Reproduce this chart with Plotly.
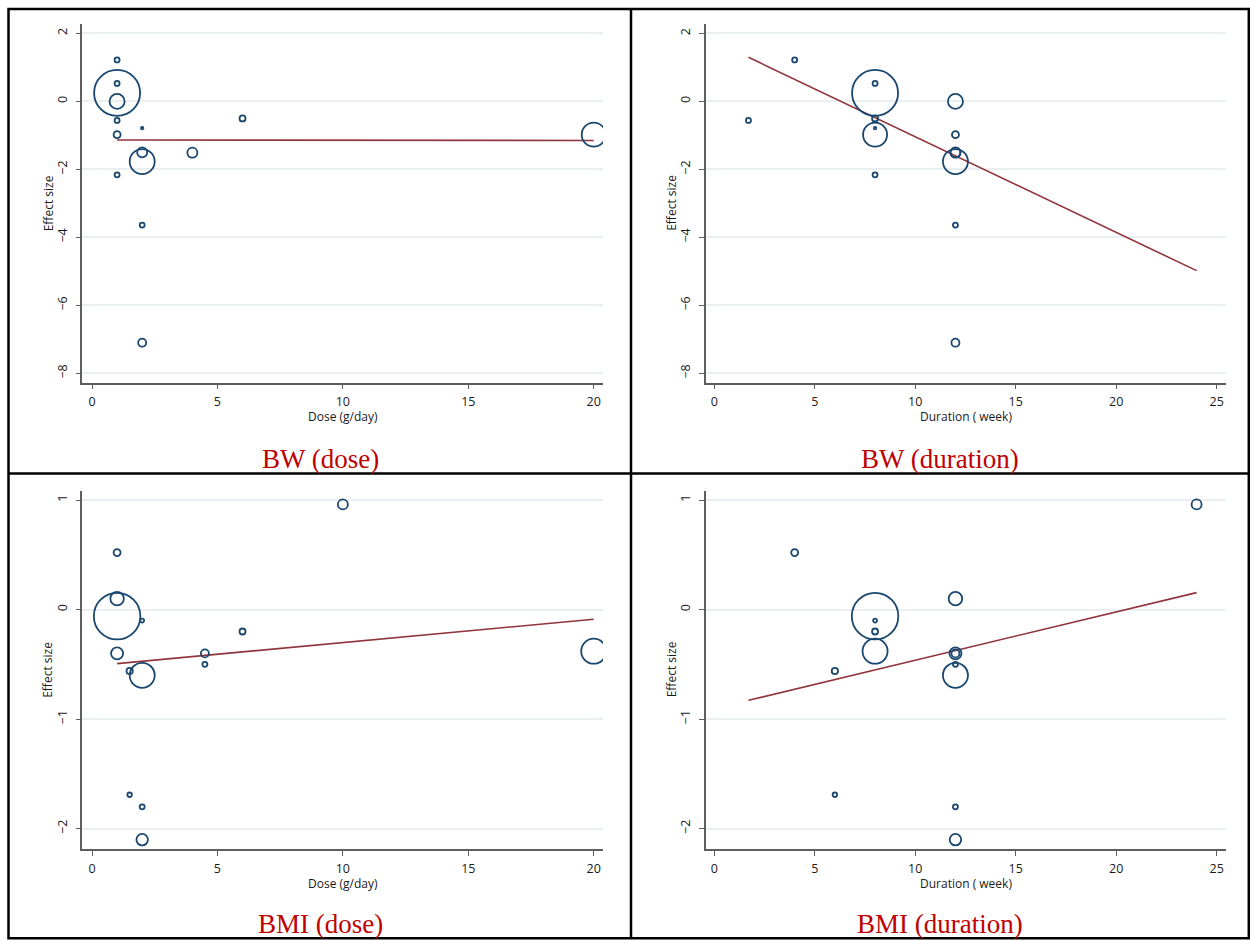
import numpy as np
import plotly.graph_objects as go

# ---------------- data ----------------
# Body weight (BW) studies
bw_dose = [1, 1, 1, 1, 1, 1, 1, 2, 2, 2, 2, 2, 4, 6, 20]
bw_duration = [4, 8, 8, 12, 1.7, 12, 8, 8, 12, 12, 12, 12, 12, 8, 8]
bw_effect = [1.22, 0.53, 0.25, 0.0, -0.56, -0.98, -2.16, -0.79, -1.50, -1.77, -3.64, -7.10, -1.51, -0.50, -0.98]
bw_weight = [0.25, 0.25, 21.2, 2.25, 0.25, 0.49, 0.25, 0.06, 1.0, 6.25, 0.25, 0.64, 1.0, 0.36, 5.76]

# BMI studies
bmi_dose = [1, 1, 1, 1, 1.5, 2, 2, 4.5, 4.5, 6, 10, 20, 1.5, 2, 2]
bmi_duration = [4, 12, 8, 12, 6, 8, 12, 12, 12, 8, 24, 8, 6, 12, 12]
bmi_effect = [0.52, 0.10, -0.06, -0.40, -0.56, -0.10, -0.60, -0.40, -0.50, -0.20, 0.96, -0.38, -1.69, -1.80, -2.10]
bmi_weight = [0.49, 1.82, 21.6, 1.44, 0.40, 0.16, 6.25, 0.64, 0.25, 0.36, 1.0, 6.25, 0.2, 0.25, 1.32]

# meta-regression fitted lines (end points)
bw_dose_fit_x = [1, 20]
bw_dose_fit_y = [-1.135, -1.15]
bw_dur_fit_x = [1.7, 24]
bw_dur_fit_y = [1.296, -4.98]
bmi_dose_fit_x = [1, 20]
bmi_dose_fit_y = [-0.493, -0.088]
bmi_dur_fit_x = [1.7, 24]
bmi_dur_fit_y = [-0.828, 0.155]

# axis ticks / labels
dose_ticks = [0, 5, 10, 15, 20]
duration_ticks = [0, 5, 10, 15, 20, 25]
bw_ticks = [-8, -6, -4, -2, 0, 2]
bmi_ticks = [-2, -1, 0, 1]
x_titles = ["Dose (g/day)", "Duration ( week)", "Dose (g/day)", "Duration ( week)"]
panel_titles = ["BW (dose)", "BW (duration)", "BMI (dose)", "BMI (duration)"]
y_title = "Effect size"

# ---------------- styling ----------------
W, H = 1250, 940
NAVY = "#1a476f"
MAROON = "#90353b"
GRID = "#eaf0f2"
AXIS = "#5e5e5e"
FONT = "Open Sans"
TXT = "#1a1a1a"


def px_x(p):
    return p / W


def px_y(p):
    return 1 - p / H


panels = [
    dict(x=bw_dose, y=bw_effect, w=bw_weight, fx=bw_dose_fit_x, fy=bw_dose_fit_y,
         xt=dose_ticks, yt=bw_ticks, xr=[-0.387, 20.37], yr=[-8.277, 2.277],
         dx=(82.3, 603), dy=(24, 382.7)),
    dict(x=bw_duration, y=bw_effect, w=bw_weight, fx=bw_dur_fit_x, fy=bw_dur_fit_y,
         xt=duration_ticks, yt=bw_ticks, xr=[-0.428, 25.463], yr=[-8.277, 2.277],
         dx=(705.7, 1226), dy=(24, 382.7)),
    dict(x=bmi_dose, y=bmi_effect, w=bmi_weight, fx=bmi_dose_fit_x, fy=bmi_dose_fit_y,
         xt=dose_ticks, yt=bmi_ticks, xr=[-0.387, 20.37], yr=[-2.185, 1.085],
         dx=(82.3, 603), dy=(490.7, 849)),
    dict(x=bmi_duration, y=bmi_effect, w=bmi_weight, fx=bmi_dur_fit_x, fy=bmi_dur_fit_y,
         xt=duration_ticks, yt=bmi_ticks, xr=[-0.428, 25.463], yr=[-2.185, 1.085],
         dx=(705.7, 1226), dy=(490.7, 849)),
]

fig = go.Figure()
layout = {}
annotations = []

for i, p in enumerate(panels):
    n = "" if i == 0 else str(i + 1)
    xa, ya = "x" + n, "y" + n
    sizes = 10 * np.sqrt(np.array(p["w"]))
    fig.add_trace(go.Scatter(
        x=p["fx"], y=p["fy"], mode="lines", xaxis=xa, yaxis=ya,
        line=dict(color=MAROON, width=1.6), showlegend=False, hoverinfo="skip"))
    fig.add_trace(go.Scatter(
        x=p["x"], y=p["y"], mode="markers", xaxis=xa, yaxis=ya,
        marker=dict(symbol="circle-open", size=sizes, color=NAVY, opacity=1,
                    line=dict(width=1.8, color=NAVY)),
        showlegend=False))
    layout["xaxis" + n] = dict(
        domain=[px_x(p["dx"][0]), px_x(p["dx"][1])], anchor=ya, range=p["xr"],
        tickmode="array", tickvals=p["xt"], ticks="outside", ticklen=5,
        tickcolor=AXIS, tickwidth=1.2, showline=True, linecolor=AXIS, linewidth=1.5,
        showgrid=False, zeroline=False, ticklabelstandoff=2,
        tickfont=dict(family=FONT, size=12.5, color=TXT))
    layout["yaxis" + n] = dict(
        domain=[px_y(p["dy"][1]), px_y(p["dy"][0])], anchor=xa, range=p["yr"],
        tickmode="array", tickvals=p["yt"], ticks="outside", ticklen=5,
        tickcolor=AXIS, tickwidth=1.2, showline=True, linecolor=AXIS, linewidth=1.5,
        showgrid=True, gridcolor=GRID, gridwidth=1.5, zeroline=False, tickangle=-90,
        ticklabelstandoff=4,
        tickfont=dict(family=FONT, size=12.5, color=TXT))
    xmid = (p["dx"][0] + p["dx"][1]) / 2
    ymid = (p["dy"][0] + p["dy"][1]) / 2
    ytitle_x = 48 if i % 2 == 0 else 671.5
    annotations.append(dict(
        text=y_title, x=px_x(ytitle_x), y=px_y(ymid), xref="paper", yref="paper",
        textangle=-90, showarrow=False, xanchor="center", yanchor="middle",
        font=dict(family=FONT, size=12, color=TXT)))
    annotations.append(dict(
        text=x_titles[i], x=px_x(xmid), y=px_y(p["dy"][1] + 34), xref="paper", yref="paper",
        showarrow=False, xanchor="center", yanchor="middle",
        font=dict(family=FONT, size=12, color=TXT)))
    pcx = 320 if i % 2 == 0 else 940
    pcy = 459 if i < 2 else 924
    annotations.append(dict(
        text=panel_titles[i], x=px_x(pcx), y=px_y(pcy), xref="paper", yref="paper",
        showarrow=False, xanchor="center", yanchor="middle",
        font=dict(family="Liberation Serif", size=27, color="#c00000")))

shapes = [
    dict(type="rect", xref="paper", yref="paper", x0=px_x(8.5), x1=px_x(1248.8),
         y0=px_y(938.3), y1=px_y(9), line=dict(color="black", width=2.5)),
    dict(type="line", xref="paper", yref="paper", x0=px_x(631), x1=px_x(631),
         y0=px_y(938.3), y1=px_y(9), line=dict(color="black", width=2.5)),
    dict(type="line", xref="paper", yref="paper", x0=px_x(8.5), x1=px_x(1248.8),
         y0=px_y(473.5), y1=px_y(473.5), line=dict(color="black", width=2.5)),
]

fig.update_layout(
    width=W, height=H, margin=dict(l=0, r=0, t=0, b=0),
    paper_bgcolor="white", plot_bgcolor="white",
    annotations=annotations, shapes=shapes, showlegend=False,
    **layout)

fig.write_html(
    "out.html",
    config={"displayModeBar": False},
    post_script="document.body.style.margin='0';document.body.style.overflow='hidden';")
